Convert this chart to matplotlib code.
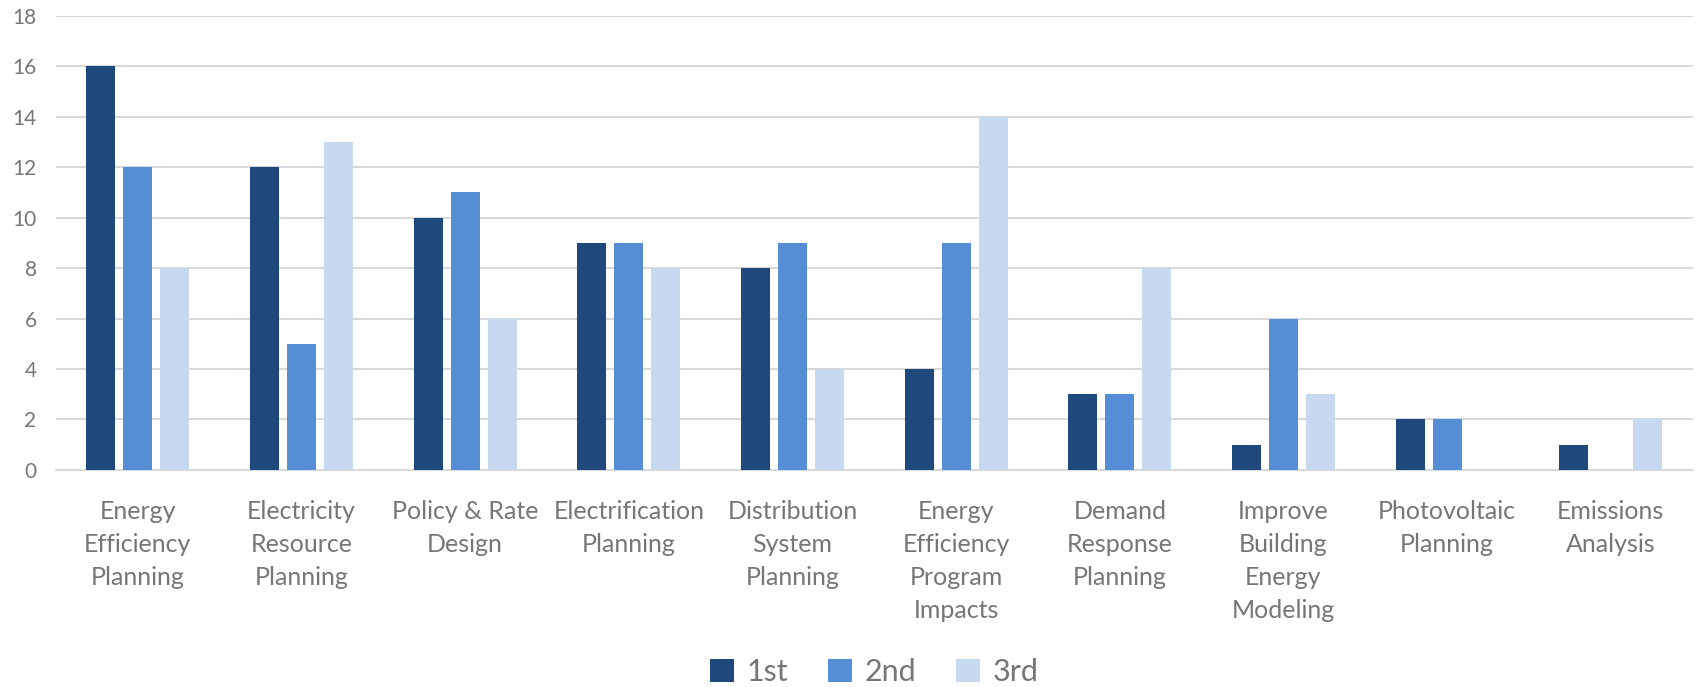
import numpy as np
import matplotlib
matplotlib.use('Agg')
import matplotlib.pyplot as plt

plt.rcParams['font.family'] = ['Lato', 'DejaVu Sans']

categories = ['Energy\nEfficiency\nPlanning', 'Electricity\nResource\nPlanning',
              'Policy & Rate\nDesign', 'Electrification\nPlanning',
              'Distribution\nSystem\nPlanning', 'Energy\nEfficiency\nProgram\nImpacts',
              'Demand\nResponse\nPlanning', 'Improve\nBuilding\nEnergy\nModeling',
              'Photovoltaic\nPlanning', 'Emissions\nAnalysis']
first = [16, 12, 10, 9, 8, 4, 3, 1, 2, 1]
second = [12, 5, 11, 9, 9, 9, 3, 6, 2, 0]
third = [8, 13, 6, 8, 4, 14, 8, 3, 0, 2]
series_names = ['1st', '2nd', '3rd']
colors = ['#1f497d', '#558ed5', '#c6d9f1']

grey = '#767676'
fig = plt.figure(figsize=(16.96, 6.87), dpi=100)
ax = fig.add_axes([0.033, 0.316, 0.965, 0.661])

x = np.arange(len(categories))
width = 0.177
step = 0.226
for i, (vals, name, c) in enumerate(zip([first, second, third], series_names, colors)):
    ax.bar(x + (i - 1) * step, vals, width, color=c, label=name, zorder=3)

ax.set_xlim(-0.5, len(categories) - 0.5)
ax.set_ylim(0, 18)
ax.set_yticks(np.arange(0, 19, 2))
ax.yaxis.grid(True, color='#d9d9d9', linewidth=1.5, zorder=0)
for s in ['top', 'right', 'left']:
    ax.spines[s].set_visible(False)
ax.spines['bottom'].set_color('#d9d9d9')
ax.spines['bottom'].set_linewidth(1.5)
ax.tick_params(axis='y', length=0, pad=14, labelsize=15, labelcolor=grey)
ax.tick_params(axis='x', length=0, pad=22, labelsize=18, labelcolor=grey)
ax.set_xticks(x)
ax.set_xticklabels(categories, linespacing=1.52)

ax.legend(loc='center', bbox_to_anchor=(0.5, -0.445), ncol=3, frameon=False,
          fontsize=22, labelcolor=grey, handlelength=0.8, handleheight=0.8,
          handletextpad=0.4, columnspacing=1.3)

fig.savefig('out.png', dpi=100)
